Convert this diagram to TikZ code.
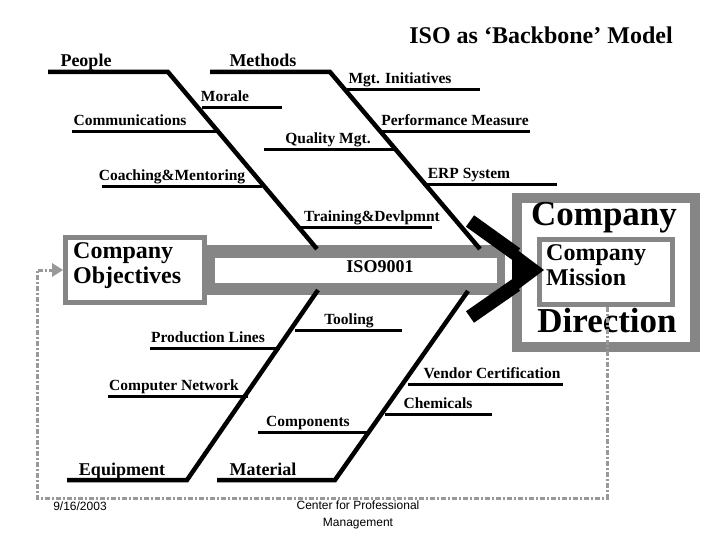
\documentclass[tikz,border=0pt]{standalone}
\usepackage{fontspec}
\setmainfont{Liberation Serif}
\newfontfamily\sansf{Liberation Sans}
\begin{document}
\begin{tikzpicture}[x=1pt,y=-1pt,
  bone/.style={line width=4.5pt,black},
  sub/.style={line width=3pt,black},
  lbl/.style={font=\bfseries\fontsize{15.5}{16}\selectfont,inner sep=0pt,anchor=base},
  big/.style={font=\bfseries\fontsize{18}{19}\selectfont,inner sep=0pt,anchor=base},
  foot/.style={font=\sansf\fontsize{12}{13}\selectfont,anchor=base,inner sep=0pt},
  fb/.style={draw=gray!80,line width=3pt,dash pattern=on 5pt off 2pt on 2pt off 2pt}]
\useasboundingbox (0,0) rectangle (720,540);
% title
\node[font=\bfseries\fontsize{24}{25}\selectfont] (title) at (541,35) {ISO as ‘Backbone’ Model};
% spine
\fill[gray!95!white] (205,245) rectangle (505,295);
\fill[white] (215,258) rectangle (497,283);
\node[font=\bfseries\fontsize{18}{19}\selectfont] (iso) at (380,267) {ISO9001};
% objectives box
\fill[gray!95!white] (63,235) rectangle (207,305);
\fill[white] (68,240) rectangle (202,300);
\node[font=\bfseries\fontsize{24}{25}\selectfont,align=left,anchor=north west,inner sep=0pt] (obj) at (73,242) {Company\\Objectives};
% company box
\fill[gray!95!white] (512,193) rectangle (700,352);
\fill[white] (522,203) rectangle (690,342);
\fill[gray!95!white] (537,237) rectangle (675,307);
\fill[white] (542,242) rectangle (670,302);
\node[font=\bfseries\fontsize{35}{36}\selectfont] (comp) at (604,218) {Company};
\node[font=\bfseries\fontsize{35}{36}\selectfont] (dir) at (607,321) {Direction};
\node[font=\bfseries\fontsize{24}{25}\selectfont,align=left,anchor=north west,inner sep=0pt] (mis) at (546,244) {Company\\Mission};
% arrow chevron
\draw[line width=14pt] (470,221) -- (516,254);
\draw[line width=14pt] (470,317) -- (516,285);
\fill (512,246) -- (544,270) -- (512,294) -- cycle;
% feedback loop
\coordinate (f1) at (607,307);
\coordinate (f2) at (607,498);
\coordinate (f3) at (37,498);
\coordinate (f4) at (37,270);
\coordinate (f5) at (63,270);
\draw[fb] (f1) -- (f2) -- (f3) -- (f4) -- (52,270);
\fill[gray!80] (f5) -- (52,263) -- (52,277) -- cycle;
% upper bones
\coordinate (p0) at (48,72); \coordinate (p1) at (168,72); \coordinate (p2) at (317,249);
\coordinate (m0) at (210,72); \coordinate (m1) at (330,72); \coordinate (m2) at (480,249);
\draw[bone] (p0) -- (p1) -- (p2);
\draw[bone] (m0) -- (m1) -- (m2);
\node[big] (people) at (86,67) {People};
\node[big] (methods) at (263,67) {Methods};
% lower bones
\coordinate (e0) at (67,480); \coordinate (e1) at (187,480); \coordinate (e2) at (318,290);
\coordinate (a0) at (217,480); \coordinate (a1) at (335,480); \coordinate (a2) at (468,291);
\draw[bone] (e0) -- (e1) -- (e2);
\draw[bone] (a0) -- (a1) -- (a2);
\node[big] (equip) at (122,475) {Equipment};
\node[big] (mat) at (263,475) {Material};
% sub bones
\foreach \n/\xa/\xb/\y/\t/\xc in {
 mor/202/282/108/Morale/225,
 com/72/218/132/Communications/130,
 coa/102/262/187/Coaching\&Mentoring/172,
 mgt/347/480/90/Mgt. Initiatives/400,
 per/380/530/132/Performance Measure/455,
 qua/264/395/150/Quality Mgt./328,
 erp/423/557/185/ERP System/469,
 tra/298/432/228/Training\&Devlpmnt/372,
 too/295/402/330/Tooling/349,
 pro/150/280/348/Production Lines/208,
 net/108/248/396/Computer Network/174,
 cpt/258/367/432/Components/308,
 ven/408/563/384/Vendor Certification/492,
 che/385/492/414/Chemicals/438}{
 \coordinate (\n a) at (\xa,\y); \coordinate (\n b) at (\xb,\y);
 \draw[sub] (\n a) -- (\n b);
 \node[lbl] (\n t) at (\xc,\y-6) {\t};
}
% footer
\node[foot] (date) at (80,510) {9/16/2003};
\node[foot] (cpm1) at (358,509) {Center for Professional};
\node[foot] (cpm2) at (358,526) {Management};
\end{tikzpicture}
\end{document}
